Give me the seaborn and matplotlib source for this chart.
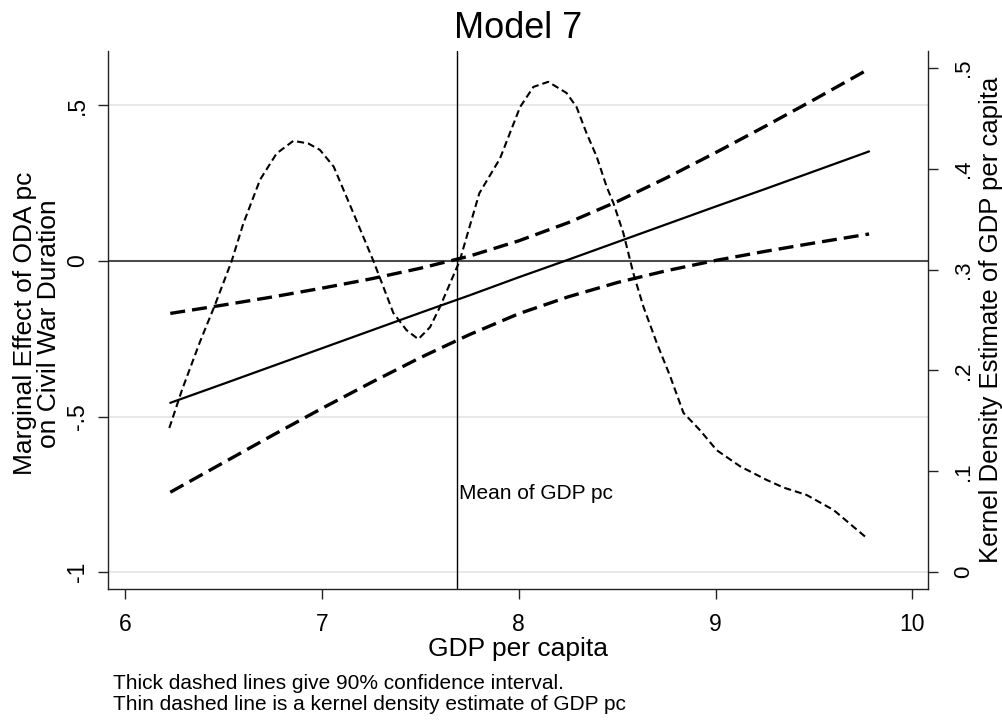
import matplotlib
matplotlib.use("Agg")
import matplotlib.pyplot as plt
import seaborn as sns

# ---- data ----
gdp_x = [6.23, 6.5, 6.75, 7.0, 7.25, 7.5, 7.75, 8.0, 8.25, 8.5, 8.75, 9.0, 9.25, 9.5, 9.78]
marg_eff = [-0.456, -0.395, -0.338, -0.281, -0.224, -0.167, -0.111, -0.053, 0.003, 0.060, 0.117, 0.174, 0.230, 0.287, 0.351]
ci_upper = [-0.169, -0.142, -0.116, -0.088, -0.058, -0.024, 0.015, 0.064, 0.122, 0.190, 0.266, 0.347, 0.431, 0.517, 0.616]
ci_lower = [-0.743, -0.648, -0.560, -0.474, -0.391, -0.311, -0.237, -0.170, -0.116, -0.070, -0.032, 0.001, 0.030, 0.057, 0.086]

dens_x = [6.225, 6.29, 6.38, 6.457, 6.542, 6.60, 6.686, 6.77, 6.855, 6.93, 6.99, 7.06, 7.16,
          7.262, 7.363, 7.43, 7.49, 7.55, 7.60, 7.70, 7.80, 7.905, 8.007, 8.075, 8.15, 8.243,
          8.294, 8.345, 8.396, 8.447, 8.481, 8.532, 8.583, 8.634, 8.702, 8.77, 8.837, 8.92,
          9.006, 9.125, 9.26, 9.345, 9.463, 9.60, 9.77]
dens_y = [0.143, 0.181, 0.228, 0.265, 0.3085, 0.345, 0.389, 0.415, 0.4275, 0.425, 0.4186, 0.402,
          0.356, 0.3085, 0.257, 0.240, 0.231, 0.243, 0.263, 0.3085, 0.3756, 0.410, 0.461, 0.481,
          0.486, 0.475, 0.461, 0.435, 0.412, 0.382, 0.366, 0.336, 0.296, 0.263, 0.227, 0.194,
          0.158, 0.141, 0.121, 0.105, 0.0915, 0.084, 0.0766, 0.0617, 0.0337]

gdp_mean = 7.685

x_ticks = [6, 7, 8, 9, 10]
x_tick_labels = ["6", "7", "8", "9", "10"]
left_ticks = [-1, -0.5, 0, 0.5]
left_tick_labels = ["-1", "-.5", "0", ".5"]
right_ticks = [0, 0.1, 0.2, 0.3, 0.4, 0.5]
right_tick_labels = ["0", ".1", ".2", ".3", ".4", ".5"]

title = "Model 7"
x_label = "GDP per capita"
left_label = "Marginal Effect of ODA pc\non Civil War Duration"
right_label = "Kernel Density Estimate of GDP per capita"
mean_text = "Mean of GDP pc"
note1 = "Thick dashed lines give 90% confidence interval."
note2 = "Thin dashed line is a kernel density estimate of GDP pc"

# ---- style ----
sns.set_style("white")
plt.rcParams["font.family"] = ["Liberation Sans", "DejaVu Sans"]
plt.rcParams["text.color"] = "black"
plt.rcParams["axes.labelcolor"] = "black"
plt.rcParams["xtick.color"] = "black"
plt.rcParams["ytick.color"] = "black"

W, H = 1002, 720
fig = plt.figure(figsize=(W / 100, H / 100), dpi=100)
L, R, T, B = 107.7, 928.3, 51.0, 589.3
ax = fig.add_axes([L / W, 1 - B / H, (R - L) / W, (B - T) / H])
ax2 = ax.twinx()

ax.set_xlim(5.912, 10.081)
ax.set_ylim(-1.0546, 0.6734)
ax2.set_ylim(-0.01685, 0.51655)

# grid + reference lines
for yv in [0.5, -0.5, -1]:
    ax.axhline(yv, color="#e6e6e6", lw=1.3, zorder=0)
ax.axhline(0, color="#4d4d4d", lw=1.5, zorder=1)
ax.axvline(gdp_mean, color="black", lw=1.0, zorder=1)

# marginal effect and CI
sns.lineplot(x=gdp_x, y=marg_eff, ax=ax, color="black", lw=1.6, zorder=3)
sns.lineplot(x=gdp_x, y=ci_upper, ax=ax, color="black", lw=2.4, zorder=3)
ax.lines[-1].set_dashes([4.5, 2.1])
sns.lineplot(x=gdp_x, y=ci_lower, ax=ax, color="black", lw=2.4, zorder=3)
ax.lines[-1].set_dashes([4.5, 2.1])

# kernel density on right axis
sns.lineplot(x=dens_x, y=dens_y, ax=ax2, color="black", lw=1.5, zorder=3)
ax2.lines[-1].set_dashes([3.4, 1.9])

ax.text(7.699, -0.765, mean_text, fontsize=15, va="baseline", ha="left", color="black")

# ticks
ax.set_xticks(x_ticks)
ax.set_xticklabels(x_tick_labels)
ax.set_yticks(left_ticks)
ax.set_yticklabels(left_tick_labels, rotation=90, va="center")
ax2.set_yticks(right_ticks)
ax2.set_yticklabels(right_tick_labels, rotation=90, va="center")

ax.tick_params(axis="x", direction="out", length=7.2, width=1.0, color="#222222",
               labelcolor="black", pad=10, labelsize=16.5, bottom=True)
ax.tick_params(axis="y", direction="out", length=7.2, width=1.0, color="#222222",
               labelcolor="black", pad=6.5, labelsize=16.5, left=True)
ax2.tick_params(axis="y", direction="out", length=7.2, width=1.0, color="#222222",
                labelcolor="black", pad=10.5, labelsize=16, right=True)

for s in ["top", "right"]:
    ax.spines[s].set_visible(False)
for s in ["top", "left", "bottom"]:
    ax2.spines[s].set_visible(False)
for sp in [ax.spines["left"], ax.spines["bottom"], ax2.spines["right"]]:
    sp.set_color("#222222")
    sp.set_linewidth(1.0)

ax.set_xlabel(x_label, fontsize=19, color="black")
ax.xaxis.set_label_coords(0.5, (B - 656) / (B - T))
ax.xaxis.label.set_va("baseline")

ax.set_ylabel(left_label, fontsize=19, linespacing=1.0, color="black")
ax.yaxis.set_label_coords((61 - L) / (R - L), 0.4938)

ax2.set_ylabel(right_label, fontsize=18.5, color="black")
ax2.yaxis.set_label_coords((979 - L) / (R - L), 0.5)

fig.text(518 / W, 1 - 38.3 / H, title, ha="center", va="baseline", fontsize=26, color="black")
fig.text(113 / W, 1 - 689.3 / H, note1, ha="left", va="baseline", fontsize=15, color="black")
fig.text(113 / W, 1 - 710 / H, note2, ha="left", va="baseline", fontsize=15, color="black")

fig.savefig("out.png", dpi=100)
